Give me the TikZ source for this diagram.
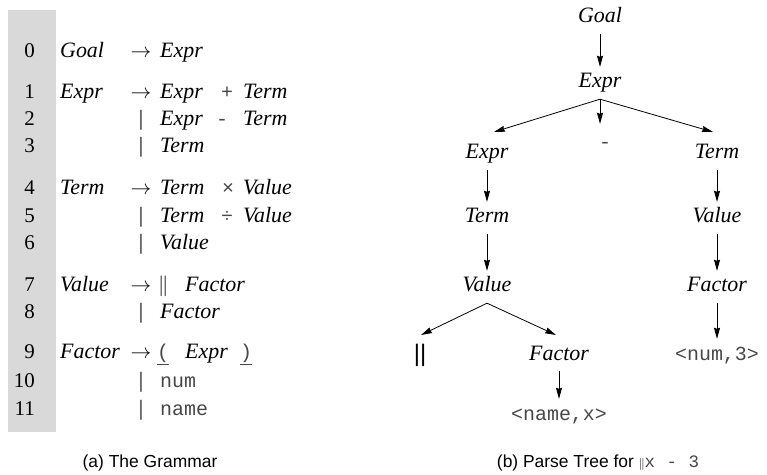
\documentclass[tikz,border=0pt]{standalone}
\usepackage{fontspec}
\setmainfont{Liberation Serif}
\setsansfont{Liberation Sans}
\setmonofont{Liberation Mono}
\usetikzlibrary{arrows.meta, positioning, calc}
\definecolor{PanelGray}{RGB}{217,217,217}
\definecolor{TokGray}{RGB}{70,70,70}

\begin{document}
\begin{tikzpicture}[x=1bp, y=-1bp,
  rownum/.style={font=\fontsize{21}{21}\selectfont, inner sep=0pt, anchor=base east},
  sym/.style={font=\fontsize{22}{22}\selectfont\itshape, inner sep=0pt, anchor=base west},
  tok/.style={font=\fontsize{20}{20}\selectfont\ttfamily, text=TokGray, inner sep=0pt, anchor=base west},
  opr/.style={font=\fontsize{22}{22}\selectfont, inner sep=0pt, anchor=base},
  tnode/.style={font=\fontsize{22}{22}\selectfont\itshape, inner xsep=2bp, inner ysep=7bp,
                text height=14bp, text depth=4bp},
  tleaf/.style={tnode, font=\fontsize{20}{20}\selectfont\ttfamily, text=TokGray},
  arr/.style={-{Stealth[length=11bp, width=6bp, inset=1bp]}, line width=0.8bp},
  caption/.style={font=\fontsize{17.5}{17.5}\selectfont\sffamily, inner sep=0pt}]
\useasboundingbox (0,0) rectangle (767,475);

% (a) grammar
\fill[PanelGray] (8,10) rectangle (56,432);
\foreach \n/\y in {0/58,1/99,2/126,3/153,4/195,5/223,6/250,7/292,8/319,9/359,10/387,11/415}
  \node[rownum] (n\n) at (35,\y) {\n};
\foreach \n/\y in {0/58,1/99,4/195,7/292,9/359}
  \node[opr] (o\n) at (141,\y) {$\rightarrow$};
\foreach \n/\y in {2/126,3/153,5/223,6/250,8/319,10/387,11/415}
  \node[opr] (o\n) at (141,\y) {\textbar};

\node[sym] (l0) at (60,58) {Goal};
\node[sym] (l1) at (60,99) {Expr};
\node[sym] (l4) at (60,195) {Term};
\node[sym] (l7) at (60,292) {Value};
\node[sym] (l9) at (60,359) {Factor};

\node[sym] (r0) at (160,58) {Expr};
\node[sym] (r1) at (160,99) {Expr};
\node[tok] (p1) at (221,99) {+};
\node[sym] (s1) at (243,99) {Term};
\node[sym] (r2) at (160,126) {Expr};
\node[tok] (p2) at (216,126) {-};
\node[sym] (s2) at (243,126) {Term};
\node[sym] (r3) at (160,153) {Term};
\node[sym] (r4) at (160,195) {Term};
\node[tok] (p4) at (222,195) {×};
\node[sym] (s4) at (243,195) {Value};
\node[sym] (r5) at (160,223) {Term};
\node[tok] (p5) at (221,223) {÷};
\node[sym] (s5) at (243,223) {Value};
\node[sym] (r6) at (160,250) {Value};
\node[opr, anchor=base west] (p7) at (158,292) {$\|$};
\node[sym] (r7) at (185,292) {Factor};
\node[sym] (r8) at (160,319) {Factor};
\node[tok] (p9) at (157,359) {\underline{(}};
\node[sym] (r9) at (185,359) {Expr};
\node[tok] (q9) at (240,359) {\underline{)}};
\node[tok] (r10) at (160,387) {num};
\node[tok] (r11) at (160,415) {name};

\node[caption] (capa) at (150,463) {(a) The Grammar};

% (b) parse tree
\node[tnode] (goal) at (600,18) {Goal};
\node[tnode] (expr) at (600,83) {Expr};
\node[tnode] (expr1) at (487,154) {Expr};
\node[tleaf] (minus) at (605,144) {-};
\node[tnode] (term1) at (717,154) {Term};
\node[tnode] (term) at (487,218) {Term};
\node[tnode] (value1) at (717,218) {Value};
\node[tnode] (value) at (487,287) {Value};
\node[tnode] (factor1) at (717,287) {Factor};
\node[tnode, font=\fontsize{24}{24}\selectfont\sffamily] (bars) at (420,356) {||};
\node[tnode] (factor) at (559,355) {Factor};
\node[tleaf] (num3) at (717,355) {<num,3>};
\node[tleaf] (namex) at (559,415) {<name,x>};

\coordinate (e1) at ($(expr1)+(7,-22)$);
\coordinate (t1) at ($(term1)+(-4,-22)$);
\coordinate (b1) at ($(bars)+(1,-21)$);
\coordinate (f1) at ($(factor)+(-3,-20)$);

\draw[arr] (goal) -- (expr);
\draw[arr] (expr.south) -- (e1);
\draw[arr, shorten >=4bp] (expr.south) -- (expr.south |- minus.north);
\draw[arr] (expr.south) -- (t1);
\draw[arr] (expr1) -- (term);
\draw[arr] (term) -- (value);
\draw[arr] (value.south) -- (b1);
\draw[arr] (value.south) -- (f1);
\draw[arr] (factor) -- (namex);
\draw[arr] (term1) -- (value1);
\draw[arr] (value1) -- (factor1);
\draw[arr] (factor1) -- (num3);

\node[caption] (capb) at (598,463) {(b) Parse Tree for {\fontsize{13}{13}\selectfont$\|$}{\ttfamily\color{TokGray}x\hspace{1bp} - \hspace{1bp}3}};
\end{tikzpicture}
\end{document}
